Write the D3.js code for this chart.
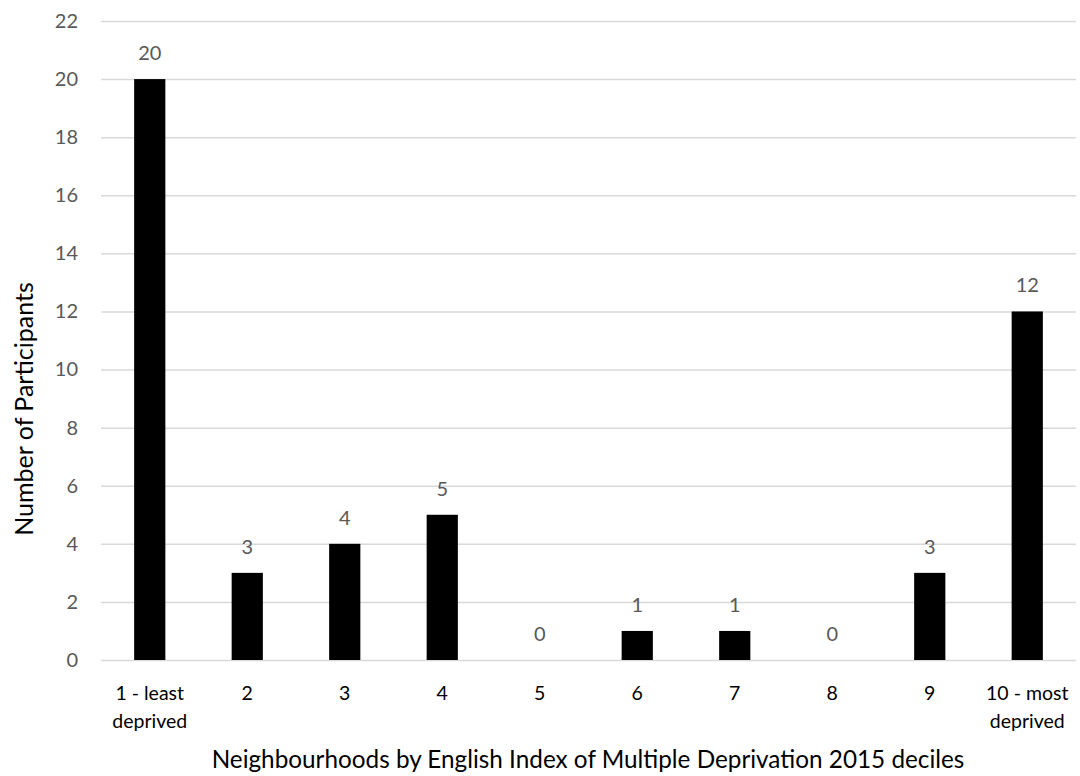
<!DOCTYPE html>
<html>
<head>
<meta charset="utf-8">
<script src="https://cdn.jsdelivr.net/npm/d3@7"></script>
<style>
  html, body { margin: 0; padding: 0; background: #fff; }
  svg { display: block; font-family: Lato, "Open Sans", sans-serif; }
</style>
</head>
<body>
<svg id="chart" width="1080" height="776"></svg>
<script>
// Deprivation deciles (two-line labels) and participant counts
const categories = [
  ["1 - least", "deprived"], ["2"], ["3"], ["4"], ["5"],
  ["6"], ["7"], ["8"], ["9"], ["10 - most", "deprived"]
];
const participants = [20, 3, 4, 5, 0, 1, 1, 0, 3, 12];
const yTicks = [0, 2, 4, 6, 8, 10, 12, 14, 16, 18, 20, 22];
const xTitle = "Neighbourhoods by English Index of Multiple Deprivation 2015 deciles";
const yTitle = "Number of Participants";

const svg = d3.select("#chart");
const plot = { left: 101, right: 1076, top: 21, bottom: 660 };

const keys = categories.map((c, i) => String(i));
const x = d3.scaleBand()
  .domain(keys)
  .range([plot.left, plot.right])
  .paddingInner(0.68)
  .paddingOuter(0.34);

const y = d3.scaleLinear()
  .domain([0, 22])
  .range([plot.bottom, plot.top]);

// Horizontal gridlines with value labels on the left
const yAxis = d3.axisLeft(y)
  .tickValues(yTicks)
  .tickSize(-(plot.right - plot.left))
  .tickPadding(23);

const gy = svg.append("g")
  .attr("transform", `translate(${plot.left},0)`)
  .call(yAxis);
gy.select(".domain").remove();
gy.selectAll(".tick line")
  .attr("stroke", "#d9d9d9")
  .attr("stroke-width", 1.5);
gy.selectAll(".tick text")
  .attr("fill", "#595959")
  .attr("font-size", 20)
  .attr("font-family", "Lato, 'Open Sans', sans-serif");

// Bars
svg.append("g")
  .selectAll("rect")
  .data(participants)
  .join("rect")
  .attr("x", (d, i) => x(keys[i]))
  .attr("y", d => y(d))
  .attr("width", x.bandwidth())
  .attr("height", d => y(0) - y(d))
  .attr("fill", "#000");

// Value labels above each bar
svg.append("g")
  .selectAll("text")
  .data(participants)
  .join("text")
  .attr("x", (d, i) => x(keys[i]) + x.bandwidth() / 2)
  .attr("y", d => y(d) - 19)
  .attr("text-anchor", "middle")
  .attr("fill", "#595959")
  .attr("font-size", 20)
  .text(d => d);

// Category labels below the axis
const cat = svg.append("g")
  .selectAll("text")
  .data(categories)
  .join("text")
  .attr("x", (d, i) => x(keys[i]) + x.bandwidth() / 2)
  .attr("y", 700)
  .attr("text-anchor", "middle")
  .attr("fill", "#000")
  .attr("font-size", 19.5);
cat.selectAll("tspan")
  .data(d => d)
  .join("tspan")
  .attr("x", function () { return d3.select(this.parentNode).attr("x"); })
  .attr("dy", (d, i) => i === 0 ? 0 : 28)
  .text(d => d);

// Axis titles
svg.append("text")
  .attr("x", 588)
  .attr("y", 768)
  .attr("text-anchor", "middle")
  .attr("fill", "#000")
  .attr("font-size", 24.3)
  .text(xTitle);

svg.append("text")
  .attr("transform", "translate(33,409) rotate(-90)")
  .attr("text-anchor", "middle")
  .attr("fill", "#000")
  .attr("font-size", 25)
  .text(yTitle);
</script>
</body>
</html>
